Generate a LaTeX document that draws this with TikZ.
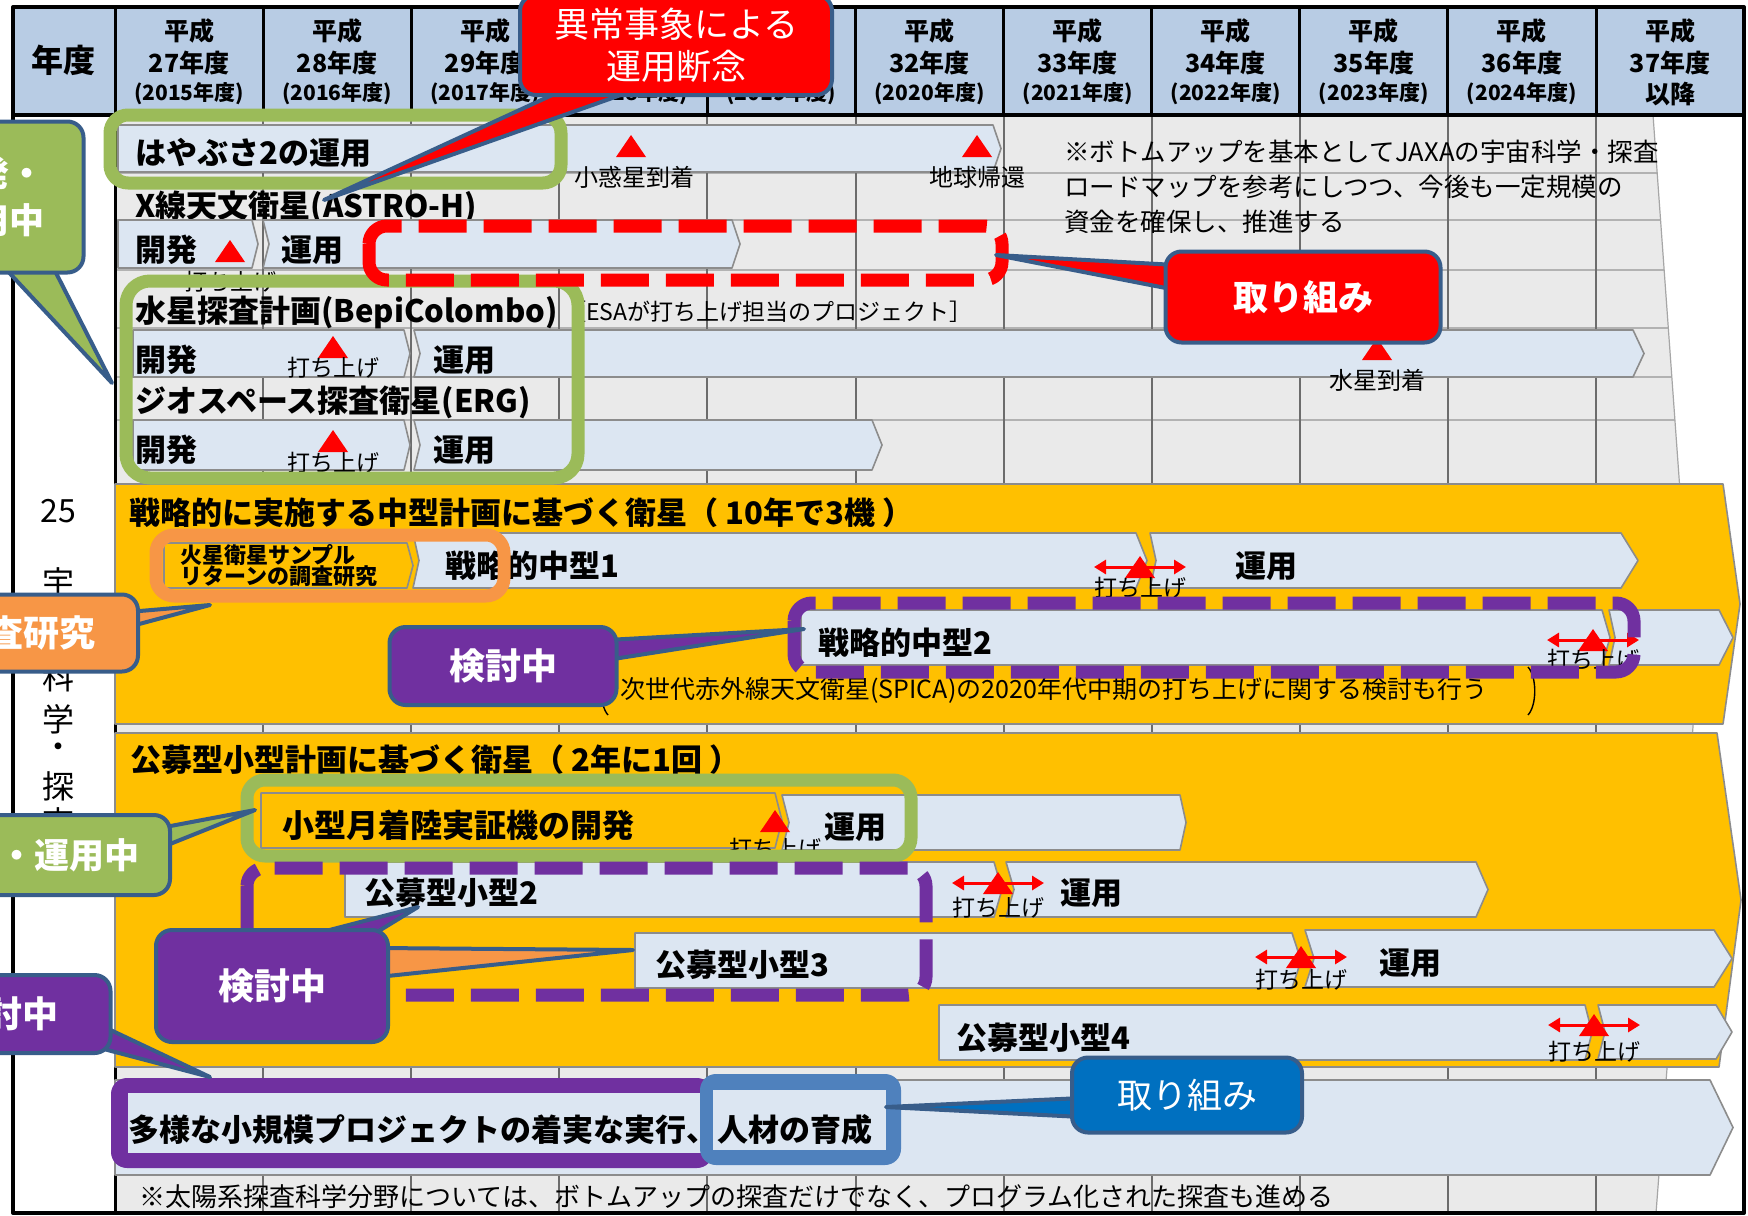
\documentclass[tikz,border=0pt]{standalone}
\usepackage{fontspec}
\setmainfont{Noto Sans CJK JP}
\usetikzlibrary{arrows.meta,calc}

\definecolor{hdrblue}{HTML}{B8CCE4}
\definecolor{bodygray}{HTML}{EAEAEA}
\definecolor{barblue}{HTML}{DCE6F2}
\definecolor{bargray}{HTML}{8C8C8C}
\definecolor{gold}{HTML}{FFC000}
\definecolor{leaf}{HTML}{9BBB59}
\definecolor{amber}{HTML}{F79646}
\definecolor{plum}{HTML}{7030A0}
\definecolor{navy}{HTML}{385D8A}
\definecolor{steel}{HTML}{4F81BD}
\definecolor{ocean}{HTML}{0070C0}

\newcommand\px[1]{\fontsize{\fpeval{#1/2}}{\fpeval{#1*0.6}}\selectfont}
\newcommand\chev[7][barblue]{\draw[bar,fill=#1] (#2,#4) -- (#3,#4) -- ({#3+#7},{(#4+#5)/2}) -- (#3,#5) -- (#2,#5) -- ({#2+#6},{(#4+#5)/2}) -- cycle;}
\newcommand\tri[2]{\fill[red] ({#1-15},{#2}) -- (#1,{#2-22}) -- ({#1+15},{#2}) -- cycle;}
\newcommand\launch[3]{%
  \draw[lift] ({#1-46},{#2}) -- ({#1+46},{#2});
  \tri{#1}{#2+11}
  \node[small] at (#1,#3) {打ち上げ};}

\begin{document}
\begin{tikzpicture}[x=0.5pt,y=-0.5pt,line join=round,
  bar/.style={draw=bargray,line width=0.8pt},
  ttl/.style={anchor=west,font=\bfseries\px{31},inner sep=0pt},
  phase/.style={font=\bfseries\px{31},inner sep=0pt},
  hdr/.style={font=\bfseries\px{25},inner sep=0pt},
  hdrs/.style={font=\bfseries\px{21},inner sep=0pt},
  small/.style={font=\px{23},inner sep=0pt},
  note/.style={anchor=west,font=\px{25.5},inner sep=0pt},
  side/.style={font=\px{32},inner sep=0pt},
  lift/.style={red,line width=1.5pt,{Triangle[length=6pt,width=7pt]}-{Triangle[length=6pt,width=7pt]}},
  frame/.style={line width=6.5pt,rounded corners=9pt},
  dashframe/.style={frame,dash pattern=on 24pt off 8.5pt},
  callout/.style={draw=navy,line width=2pt,rounded corners=8pt,text=white,inner sep=0pt,align=center},
  ptr/.style={draw=navy,line width=2pt}]
\useasboundingbox (0,0) rectangle (1748,1215);
\clip (0,0) rectangle (1748,1215);
\fill[white] (0,0) rectangle (1748,1215);

\begin{scope}
\clip (115,115) -- (1653,115) -- (1695,700) -- (1656,1213) -- (115,1213) -- cycle;
\fill[bodygray] (0,0) rectangle (1748,1215);
\foreach \r in {173,220,270,328,377,420} \draw[gray!60,line width=0.8pt] (115,\r) -- (1748,\r);
\foreach \i in {1,...,10} \draw[gray!85!black,line width=1pt] ({115+148.1*\i},115) -- ({115+148.1*\i},1213);
\end{scope}
\draw[gray!70,line width=0.6pt] (1653,115) -- (1695,700) -- (1656,1213);

\fill[hdrblue] (13,7) rectangle (1744,115);
\foreach \i in {0,...,9} {
  \pgfmathsetmacro\cx{189+148.1*\i}
  \pgfmathtruncatemacro\hy{27+\i}
  \pgfmathtruncatemacro\gy{2015+\i}
  \node[hdr] at (\cx,31) {平成};
  \node[hdr] at (\cx,63) {\hy 年度};
  \node[hdrs] at (\cx,94) {(\gy 年度)};
}
\node[hdr] at (1670,31) {平成};
\node[hdr] at (1670,63) {37年度};
\node[hdr] at (1670,94) {以降};
\node[font=\bfseries\px{32},inner sep=0pt] (nendo) at (64,60) {年度};
\foreach \i in {1,...,10} \draw[line width=1.5pt] ({115+148.1*\i},7) -- ({115+148.1*\i},115);
\draw[line width=1.5pt] (115,7) -- (115,1213);
\draw[line width=2pt] (13,115) -- (1744,115);
\draw[line width=2pt] (13,7) rectangle (1744,1213);

\node[side] at (58,511) {25};
\node[side] at (58,582) {宇};
\node[side] at (58,630) {宙};
\node[side] at (58,677) {科};
\node[side] at (58,719) {学};
\node[side] at (58,751) {・};
\node[side] at (58,786) {探};
\node[side] at (58,822) {査};

\chev{118}{993}{125}{172}{0}{8}
\node[ttl] (hayabusa) at (135,153) {はやぶさ2の運用};
\tri{631}{157}
\node[font=\px{24},inner sep=0pt] at (634,177) {小惑星到着};
\tri{977}{157}
\node[font=\px{24},inner sep=0pt] at (977,177) {地球帰還};
\node[ttl] (astro) at (135,207) {X線天文衛星(ASTRO-H)};
\chev{118}{252}{220}{268}{0}{6}
\chev{263}{732}{220}{268}{6}{8}
\node[ttl] at (135,250) {開発};
\node[ttl] at (281,250) {運用};
\tri{230}{262}
\node[small] at (230,282) {打ち上げ};
\node[ttl] (bepi) at (135,312) {水星探査計画(BepiColombo)};
\node[small,anchor=west] at (563,312) {［ESAが打ち上げ担当のプロジェクト］};
\chev{133}{404}{330}{377}{0}{6}
\chev{414}{1633}{330}{377}{6}{11}
\node[ttl] at (135,360) {開発};
\node[ttl] at (433,360) {運用};
\tri{333}{358}
\node[small] at (333,368) {打ち上げ};
\tri{1377}{360}
\node[font=\px{24},inner sep=0pt] at (1377,380) {水星到着};
\node[ttl] (erg) at (135,402) {ジオスペース探査衛星(ERG)};
\chev{133}{404}{420}{470}{0}{6}
\chev{414}{872}{420}{470}{6}{10}
\node[ttl] at (135,450) {開発};
\node[ttl] at (433,450) {運用};
\tri{333}{452}
\node[small] at (333,463) {打ち上げ};
\node[note] at (1064,152) {※ボトムアップを基本としてJAXAの宇宙科学・探査};
\node[note] at (1064,187) {ロードマップを参考にしつつ、今後も一定規模の};
\node[note] at (1064,222) {資金を確保し、推進する};

\draw[bar,fill=gold] (115,484) -- (1723,484) -- (1740,604) -- (1723,724) -- (115,724) -- cycle;
\node[ttl] (chukei) at (129,513) {戦略的に実施する中型計画に基づく衛星（ 10年で3機 ）};
\chev[gold]{164}{407}{543}{588}{0}{6}
\node[anchor=west,align=left,font=\bfseries\fontsize{11}{10.5}\selectfont,inner sep=0pt] at (180,566) {火星衛星サンプル\\リターンの調査研究};
\chev{413}{1136}{533}{588}{6}{11}
\node[ttl] at (445,566) {戦略的中型1};
\chev{1150}{1621}{533}{588}{6}{17}
\node[phase] at (1266,566) {運用};
\launch{1140}{567}{588}
\chev{801}{1602}{610}{665}{0}{8}
\chev{1609}{1719}{610}{665}{6}{14}
\node[ttl] at (818,643) {戦略的中型2};
\launch{1593}{640}{660}
\node[anchor=west,font=\px{25},inner sep=0pt] (spica) at (620,690) {次世代赤外線天文衛星(SPICA)の2020年代中期の打ち上げに関する検討も行う};
\draw[line width=0.7pt] (608,665) .. controls (599,675) and (599,705) .. (608,715);
\draw[line width=0.7pt] (1528,667) .. controls (1537,677) and (1537,705) .. (1528,715);

\draw[bar,fill=gold] (115,733) -- (1717,733) -- (1741,900) -- (1719,1067) -- (115,1067) -- cycle;
\node[ttl] (kobo) at (130,760) {公募型小型計画に基づく衛星（ 2年に1回 ）};
\chev[gold]{261}{775}{793}{848}{0}{7}
\chev{782}{1180}{795}{850}{7}{6}
\node[ttl,font=\bfseries\px{32}] at (282,825) {小型月着陸実証機の開発};
\node[phase] at (855,827) {運用};
\tri{775}{832}
\node[small] at (775,849) {打ち上げ};
\chev{345}{994}{862}{917}{0}{8}
\chev{1006}{1476}{862}{917}{8}{12}
\node[ttl] at (364,893) {公募型小型2};
\node[phase] at (1091,893) {運用};
\launch{998}{883}{908}
\chev{635}{1292}{933}{988}{0}{9}
\chev{1305}{1714}{930}{987}{9}{18}
\node[ttl] at (655,965) {公募型小型3};
\node[phase] at (1410,963) {運用};
\launch{1301}{957}{980}
\chev{939}{1585}{1005}{1060}{0}{7}
\chev{1598}{1716}{1005}{1059}{7}{16}
\node[ttl] at (956,1038) {公募型小型4};
\launch{1594}{1025}{1052}

\chev{115}{1710}{1080}{1175}{0}{23}
\fill[plum,rounded corners=8pt] (111,1078) rectangle (713,1168);
\fill[barblue] (128,1093) rectangle (705,1153);
\fill[steel,rounded corners=8pt] (700,1074) rectangle (901,1165);
\fill[barblue] (713,1090) rectangle (886,1150);
\node[ttl] (tayo) at (128,1130) {多様な小規模プロジェクトの着実な実行、人材の育成};
\node[anchor=west,font=\px{26},inner sep=0pt] (memo) at (139,1197) {※太陽系探査科学分野については、ボトムアップの探査だけでなく、プログラム化された探査も進める};

\draw[frame,leaf] (110,115) rectangle (561,183);
\draw[frame,leaf,rounded corners=12pt] (126,281) rectangle (578,478);
\draw[frame,amber] (156,535) rectangle (504,596);
\draw[frame,leaf] (247,780) rectangle (911,856);
\draw[dashframe,red] (369,226) rectangle (1002,280);
\draw[dashframe,plum] (794,603) rectangle (1634,672);
\draw[dashframe,plum] (247,868) rectangle (926,995);

\coordinate (eA) at (574,85);
\coordinate (eB) at (649,85);
\coordinate (eTip) at (324,200);
\draw[ptr,fill=red] (eA) -- (eTip) -- (eB);
\node[callout,fill=red,minimum width=156pt,minimum height=50pt,font=\fontsize{17.5}{21}\selectfont] (cErr) at (676,45) {異常事象による\\運用断念};

\coordinate (rA) at (1176,265);
\coordinate (rB) at (1176,290);
\coordinate (rTip) at (996,255);
\draw[ptr,fill=red] (rA) -- (rTip) -- (rB);
\node[callout,fill=red,minimum width=137.5pt,minimum height=45.5pt,font=\bfseries\px{35}] (cTorikumi) at (1303,297) {取り組み};

\coordinate (gA) at (2,265);
\coordinate (gB) at (52,265);
\coordinate (gTip) at (112,383);
\draw[ptr,fill=leaf] (gA) -- (gTip) -- (gB);
\node[callout,fill=leaf,minimum width=91.5pt,minimum height=75.5pt,font=\bfseries\fontsize{17.5}{23.5}\selectfont] (cDev) at (-8,197) {開発・\\運用中};

\coordinate (oA) at (128,612);
\coordinate (oB) at (128,627);
\coordinate (oTip) at (210,605);
\draw[ptr,fill=amber] (oA) -- (oTip) -- (oB);
\node[callout,fill=amber,minimum width=114pt,minimum height=38.5pt,font=\bfseries\px{36}] (cStudy) at (24,633) {調査研究};

\coordinate (pA) at (607,640);
\coordinate (pB) at (607,660);
\coordinate (pTip) at (804,629);
\draw[ptr,fill=plum] (pA) -- (pTip) -- (pB);
\node[callout,fill=plum,minimum width=113.5pt,minimum height=39pt,font=\bfseries\px{36}] (cKento) at (503,666) {検討中};

\coordinate (hA) at (160,828);
\coordinate (hB) at (160,848);
\coordinate (hTip) at (255,810);
\draw[ptr,fill=leaf] (hA) -- (hTip) -- (hB);
\node[callout,fill=leaf,minimum width=135pt,minimum height=40pt,font=\bfseries\px{35}] (cLunar) at (35,855) {開発・運用中};

\coordinate (qA) at (291,940);
\coordinate (qB) at (364,940);
\coordinate (qTip) at (418,907);
\draw[ptr,fill=plum] (qA) -- (qTip) -- (qB);
\coordinate (sA) at (378,948);
\coordinate (sB) at (378,977);
\coordinate (sTip) at (633,950);
\draw[ptr,fill=amber] (sA) -- (sTip) -- (sB);
\node[callout,fill=plum,minimum width=116pt,minimum height=56pt,font=\bfseries\px{36}] (cKobo) at (272,986) {検討中};

\coordinate (uA) at (100,1025);
\coordinate (uB) at (100,1048);
\coordinate (uTip) at (210,1077);
\draw[ptr,fill=plum] (uA) -- (uTip) -- (uB);
\node[callout,fill=plum,minimum width=105.5pt,minimum height=39pt,font=\bfseries\px{36}] (cSmall) at (5,1014) {検討中};

\coordinate (bA) at (1082,1098);
\coordinate (bB) at (1082,1117);
\coordinate (bTip) at (886,1107);
\draw[ptr,fill=ocean] (bA) -- (bTip) -- (bB);
\node[callout,fill=ocean,minimum width=115pt,minimum height=37.5pt,font=\px{35}] (cJinzai) at (1187,1095) {取り組み};
\end{tikzpicture}
\end{document}
